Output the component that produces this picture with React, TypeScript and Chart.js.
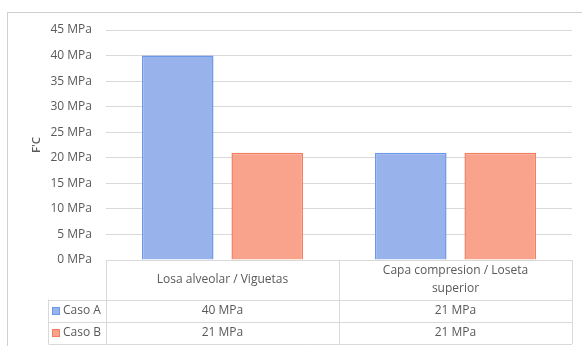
import React, { useEffect, useRef } from "react";
import { Chart, registerables } from "chart.js";

Chart.register(...registerables);

// Chart data
const categories: string[][] = [["Losa alveolar / Viguetas"], ["Capa compresion / Loseta", "superior"]];
const seriesNames = ["Caso A", "Caso B"];
const casoA = [40, 21];
const casoB = [21, 21];
const yTicks = [0, 5, 10, 15, 20, 25, 30, 35, 40, 45];
const unit = "MPa";

const fills = ["rgb(152,178,236)", "rgb(249,162,140)"];
const borders = ["rgb(108,152,232)", "rgb(242,128,96)"];
const textColor = "#595959";
const lineColor = "#d9d9d9";
const fontFamily = "'Open Sans', 'Liberation Sans', sans-serif";

// Draws the outer frame, the axis title and the data table under the plot
const tablePlugin = {
  id: "dataTable",
  afterDraw(chart: any) {
    const ctx = chart.ctx as CanvasRenderingContext2D;
    const area = chart.chartArea;
    const xs = chart.scales.x;
    const n = categories.length;
    const catW = (area.right - area.left) / n;
    const rowTop = area.bottom;
    const headerBottom = rowTop + 39.5;
    const rowH = 22.3;
    const legendLeft = 48;

    ctx.save();
    // outer frame
    ctx.strokeStyle = "#d0d0d0";
    ctx.lineWidth = 1;
    ctx.strokeRect(7.5, 12.5, 700, 400);

    // table lines
    ctx.strokeStyle = lineColor;
    ctx.beginPath();
    for (let i = 0; i <= n; i++) {
      const x = Math.round(area.left + i * catW) + 0.5;
      ctx.moveTo(x, rowTop);
      ctx.lineTo(x, headerBottom + rowH * 2);
    }
    const lx = legendLeft + 0.5;
    ctx.moveTo(lx, headerBottom);
    ctx.lineTo(lx, headerBottom + rowH * 2);
    for (let r = 0; r <= 2; r++) {
      const y = Math.round(headerBottom + r * rowH) + 0.5;
      ctx.moveTo(lx, y);
      ctx.lineTo(area.right, y);
    }
    ctx.stroke();

    ctx.font = `12px ${fontFamily}`;
    ctx.fillStyle = textColor;
    ctx.textAlign = "center";
    ctx.textBaseline = "middle";
    // category headers
    categories.forEach((lines, i) => {
      const cx = xs.getPixelForValue(i);
      const midY = (rowTop + headerBottom) / 2;
      const lh = 18;
      lines.forEach((t, k) => {
        ctx.fillText(t, cx, midY + (k - (lines.length - 1) / 2) * lh);
      });
    });
    // value rows
    const rows = [casoA, casoB];
    rows.forEach((vals, r) => {
      const cy = headerBottom + rowH * (r + 0.5);
      vals.forEach((v, i) => {
        ctx.fillText(`${v} ${unit}`, xs.getPixelForValue(i), cy);
      });
      // legend key
      ctx.fillStyle = fills[r];
      ctx.fillRect(52, Math.round(cy - 4), 8, 8);
      ctx.strokeStyle = borders[r];
      ctx.strokeRect(52.5, Math.round(cy - 4) + 0.5, 7, 7);
      ctx.fillStyle = textColor;
      ctx.textAlign = "left";
      ctx.fillText(seriesNames[r], 63, cy);
      ctx.textAlign = "center";
    });

    // y axis title
    ctx.translate(37, 145);
    ctx.rotate(-Math.PI / 2);
    ctx.font = `600 11.5px ${fontFamily}`;
    ctx.fillText("F'C", 0, 0);
    ctx.restore();
  },
};

export default function App() {
  const ref = useRef<HTMLCanvasElement>(null);

  useEffect(() => {
    if (!ref.current) return;
    const chart = new Chart(ref.current, {
      type: "bar",
      data: {
        labels: categories.map((c) => c.join(" ")),
        datasets: [
          {
            label: seriesNames[0],
            data: casoA,
            backgroundColor: fills[0],
            borderColor: borders[0],
            borderWidth: 1.5,
            categoryPercentage: 0.768,
            barPercentage: 0.8,
          },
          {
            label: seriesNames[1],
            data: casoB,
            backgroundColor: fills[1],
            borderColor: borders[1],
            borderWidth: 1.5,
            categoryPercentage: 0.768,
            barPercentage: 0.8,
          },
        ],
      },
      options: {
        animation: false,
        responsive: false,
        devicePixelRatio: 1,
        layout: { padding: { left: 0, top: 30, right: 10, bottom: 86 } },
        plugins: { legend: { display: false }, tooltip: { enabled: false } },
        scales: {
          x: { display: false },
          y: {
            min: 0,
            max: 45,
            afterFit: (s: any) => {
              s.width = 106;
            },
            afterBuildTicks: (s: any) => {
              s.ticks = yTicks.map((v) => ({ value: v }));
            },
            border: { display: false },
            grid: { color: lineColor, drawTicks: false },
            ticks: {
              padding: 14,
              color: textColor,
              font: { family: fontFamily, size: 12 },
              callback: (v: any) => `${v} ${unit}`,
            },
          },
        },
      },
      plugins: [tablePlugin],
    });
    return () => chart.destroy();
  }, []);

  return (
    <div style={{ position: "fixed", left: 0, top: 0, width: 582, height: 346, background: "#fff" }}>
      <canvas ref={ref} width={582} height={346} style={{ display: "block" }} />
    </div>
  );
}
